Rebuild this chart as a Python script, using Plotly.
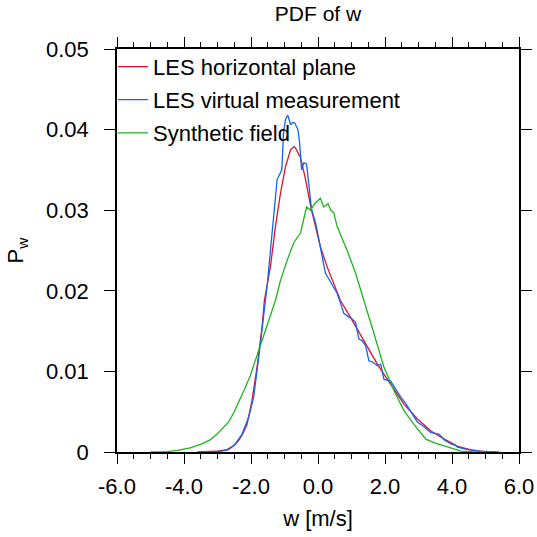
import plotly.graph_objects as go

# LES horizontal plane
w_red = [-3.6,-3.3,-3.0,-2.72,-2.5,-2.37,-2.25,-2.12,-1.97,-1.82,-1.67,-1.6,-1.42,-1.27,-1.12,-0.97,-0.82,-0.72,-0.67,-0.52,-0.37,-0.22,-0.07,0.07,0.27,0.47,0.67,0.97,1.37,1.77,2.17,2.57,2.97,3.37,3.77,4.17,4.57,4.97,5.3]
p_red = [0,0.00005,0.0001,0.0003,0.0008,0.0014,0.0022,0.0034,0.0064,0.0105,0.0155,0.0188,0.023,0.028,0.0321,0.0354,0.0375,0.0379,0.0377,0.0365,0.0338,0.0305,0.028,0.0255,0.023,0.0209,0.0188,0.0167,0.0138,0.0109,0.0084,0.0059,0.0041,0.0026,0.0016,0.0007,0.00025,0.00005,0]

# LES virtual measurement
w_blue = [-3.4,-3.1,-2.87,-2.67,-2.47,-2.27,-2.07,-1.92,-1.82,-1.72,-1.57,-1.52,-1.42,-1.32,-1.22,-1.15,-1.08,-1.03,-0.97,-0.9,-0.82,-0.75,-0.69,-0.6,-0.55,-0.49,-0.42,-0.34,-0.27,-0.19,-0.07,0.03,0.12,0.22,0.32,0.47,0.57,0.67,0.77,0.9,1.02,1.12,1.22,1.32,1.42,1.52,1.62,1.77,1.87,1.97,2.07,2.17,2.32,2.47,2.62,2.77,2.97,3.12,3.27,3.37,3.5,3.62,3.77,3.97,4.07,4.17,4.37,4.57,4.8,5.1,5.4]
p_blue = [0,0.00003,0.0001,0.0003,0.001,0.0022,0.0043,0.0068,0.0105,0.0134,0.0188,0.0205,0.025,0.0296,0.0338,0.0344,0.0350,0.0396,0.0413,0.0418,0.0406,0.0409,0.0408,0.0400,0.0384,0.0350,0.0359,0.0357,0.0330,0.0300,0.0284,0.0263,0.0242,0.0222,0.0215,0.0205,0.0197,0.0185,0.0172,0.0168,0.0165,0.0161,0.0140,0.0138,0.0132,0.0113,0.0112,0.0107,0.0109,0.0090,0.0089,0.0088,0.0078,0.0068,0.0060,0.0050,0.0037,0.0033,0.0028,0.0024,0.0023,0.0022,0.0015,0.0010,0.0009,0.0006,0.0004,0.00025,0.0001,0.00003,0]

# Synthetic field
w_green = [-5.0,-4.5,-4.2,-3.82,-3.47,-3.22,-3.02,-2.82,-2.67,-2.5,-2.32,-2.17,-2.02,-1.77,-1.52,-1.27,-1.12,-0.92,-0.72,-0.52,-0.42,-0.34,-0.22,-0.1,0.0,0.07,0.17,0.3,0.38,0.47,0.57,0.72,0.87,1.12,1.32,1.37,1.67,1.97,2.27,2.57,2.87,3.22,3.5,3.77,4.0,4.27,4.6,5.0]
p_green = [0,0.00005,0.0002,0.0005,0.001,0.0015,0.0022,0.003,0.0037,0.005,0.0066,0.008,0.0095,0.0126,0.0155,0.0188,0.0213,0.0238,0.026,0.0272,0.0290,0.0304,0.0300,0.0308,0.0312,0.0315,0.0304,0.0308,0.0300,0.0297,0.0280,0.0265,0.025,0.0222,0.0197,0.0188,0.0147,0.0105,0.0076,0.0051,0.0034,0.0016,0.0011,0.00075,0.0004,0.0001,0.00003,0]

x_tickvals = [-6, -4, -2, 0, 2, 4, 6]
x_ticktext = ["-6.0", "-4.0", "-2.0", "0.0", "2.0", "4.0", "6.0"]
y_tickvals = [0, 0.01, 0.02, 0.03, 0.04, 0.05]
y_ticktext = ["0", "0.01", "0.02", "0.03", "0.04", "0.05"]

FONT = "Liberation Sans, Arial, Helvetica, sans-serif"
FS = 22

fig = go.Figure()
fig.add_trace(go.Scatter(x=w_red, y=p_red, mode="lines", name="LES horizontal plane",
                         line=dict(color="#e2102e", width=1.3), legendgroup="a"))
fig.add_trace(go.Scatter(x=w_blue, y=p_blue, mode="lines", name="LES virtual measurement",
                         line=dict(color="#1464f4", width=1.3), legendgroup="b"))
fig.add_trace(go.Scatter(x=w_green, y=p_green, mode="lines", name="Synthetic field",
                         line=dict(color="#1eb41e", width=1.3), legendgroup="c"))

axis_common = dict(showline=True, linecolor="black", linewidth=1.5, mirror="ticks",
                   ticks="outside", tickcolor="black", tickwidth=1.2, showgrid=False,
                   zeroline=False, automargin=False,
                   tickfont=dict(size=FS, color="black", family=FONT))

fig.update_xaxes(range=[-6, 6], tickvals=x_tickvals, ticktext=x_ticktext, ticklen=10,
                 minor=dict(dtick=0.5, ticks="outside", ticklen=5, tickcolor="black", tickwidth=1, showgrid=False),
                 title=dict(text="w [m/s]", font=dict(size=FS, color="black", family=FONT), standoff=12),
                 ticklabelstandoff=4, **axis_common)
fig.update_yaxes(range=[0, 0.05], tickvals=y_tickvals, ticktext=y_ticktext, ticklen=11,
                 title=dict(text="P<sub>w</sub>", font=dict(size=FS, color="black", family=FONT), standoff=16),
                 ticklabelstandoff=11, **axis_common)

fig.update_layout(
    width=537, height=537,
    margin=dict(l=117, r=18, t=49, b=85),
    paper_bgcolor="white", plot_bgcolor="white",
    title=dict(text="PDF of w", xref="paper", x=0.5, xanchor="center", y=0.974, yanchor="middle",
               font=dict(size=21, color="black", family=FONT)),
    legend=dict(x=-0.01, y=1.008, xanchor="left", yanchor="top", bgcolor="rgba(0,0,0,0)",
                font=dict(size=FS, color="black", family=FONT), itemwidth=30,
                tracegroupgap=1.5, traceorder="grouped"),
    font=dict(family=FONT, color="black"),
)

fig.write_html("out.html", post_script="document.body.style.margin='0';",
               config={"displayModeBar": False})
